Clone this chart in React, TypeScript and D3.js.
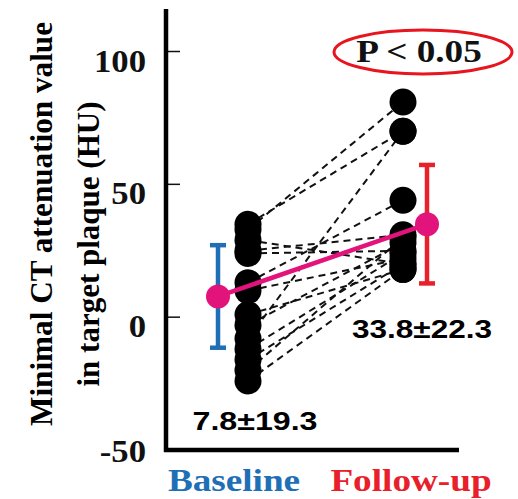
import React from 'react';
import * as d3 from 'd3';

// groups on the x axis
const categories = ['Baseline', 'Follow-up'];
const categoryColors = ['#1f6fb6', '#e8202a'];

// paired values per plaque (HU)
const baselineValues = [35, 33, 29, 25, 24, 13, 10, 1, -3, -8, -12, -16, -20, -24];
const followUpValues = [70, 81, 20, 31, 25, 44, 22, 18, 28, 70, 24, 20, 30, 18];

// mean and SD as drawn
const means = [7.8, 35];
const sds = [19.3, 22.3];
const summaryLabels = ['7.8\u00b119.3', '33.8\u00b122.3'];

const yTicks = [100, 50, 0, -50];

const W = 518;
const H = 499;
const serif = '"Liberation Serif", "Times New Roman", serif';
const sans = '"Liberation Sans", Arial, sans-serif';
const pink = '#e3137c';

export default function App() {
  const y = d3.scaleLinear().domain([-50, 116]).range([450, 9]);
  const x = d3.scalePoint<string>().domain(categories).range([233, 415]);

  const dotX = [x('Baseline')! + 15, x('Follow-up')! - 12];
  const meanX = [x('Baseline')! - 15, x('Follow-up')! + 12];
  const series = [baselineValues, followUpValues];

  const meanLine = d3.line<number>()
    .x((_, i) => meanX[i])
    .y(d => y(d));

  return (
    <svg width={W} height={H} style={{ position: 'absolute', left: 0, top: 0, background: '#fff' }}>
      {/* y axis title */}
      <g transform={`translate(52, 224) rotate(-90)`}>
        <text textAnchor="middle" fontFamily={serif} fontWeight="bold" fontSize={31}
          textLength={404} lengthAdjust="spacingAndGlyphs">Minimal CT attenuation value</text>
      </g>
      <g transform={`translate(99, 244) rotate(-90)`}>
        <text textAnchor="middle" fontFamily={serif} fontWeight="bold" fontSize={31}>in target plaque (HU)</text>
      </g>

      {/* ticks + labels */}
      {yTicks.map(t => (
        <g key={t}>
          {t > -50 && <line x1={166} x2={180} y1={y(t)} y2={y(t)} stroke="#111" strokeWidth={1.5} />}
          <g transform={`translate(146, ${y(t) + (t === -50 ? 12 : 20)}) scale(1.12, 1)`}>
            <text textAnchor="end" fontFamily={serif} fontWeight="bold" fontSize={31} fill="#111">{t}</text>
          </g>
        </g>
      ))}

      {/* axes */}
      <line x1={166} x2={166} y1={9} y2={452} stroke="#000" strokeWidth={4.5} />
      <line x1={164} x2={459} y1={450} y2={450} stroke="#000" strokeWidth={4.5} />

      {/* paired dashed lines */}
      {baselineValues.map((b, i) => (
        <line key={i} x1={dotX[0]} y1={y(b)} x2={dotX[1]} y2={y(followUpValues[i])}
          stroke="#111" strokeWidth={2} strokeDasharray="7,5" />
      ))}

      {/* individual dots */}
      {series.map((vals, s) => vals.map((v, i) => (
        <circle key={`${s}-${i}`} cx={dotX[s]} cy={y(v)} r={13.5} fill="#000" />
      )))}

      {/* error bars */}
      {means.map((m, i) => (
        <g key={i} stroke={categoryColors[i]} strokeWidth={4.5}>
          <line x1={meanX[i]} x2={meanX[i]} y1={y(m + sds[i])} y2={y(m - sds[i])} />
          <line x1={meanX[i] - 8} x2={meanX[i] + 8} y1={y(m + sds[i])} y2={y(m + sds[i])} />
          <line x1={meanX[i] - 8} x2={meanX[i] + 8} y1={y(m - sds[i])} y2={y(m - sds[i])} />
        </g>
      ))}

      {/* mean line */}
      <path d={meanLine(means) || ''} fill="none" stroke={pink} strokeWidth={4.5} />
      {means.map((m, i) => (
        <circle key={i} cx={meanX[i]} cy={y(m)} r={12} fill={pink} />
      ))}

      {/* mean ± SD labels */}
      <text x={255} y={430} textAnchor="middle" fontFamily={sans} fontWeight="bold" fontSize={25}
        textLength={125} lengthAdjust="spacingAndGlyphs">{summaryLabels[0]}</text>
      <text x={422} y={338} textAnchor="middle" fontFamily={sans} fontWeight="bold" fontSize={25}
        textLength={140} lengthAdjust="spacingAndGlyphs">{summaryLabels[1]}</text>

      {/* category labels */}
      {categories.map((c, i) => (
        <g key={c} transform={`translate(${i === 0 ? 234 : 411}, 491) scale(1.2, 1)`}>
          <text textAnchor="middle" fontFamily={serif} fontWeight="bold" fontSize={31}
            fill={categoryColors[i]}>{c}</text>
        </g>
      ))}

      {/* significance */}
      <ellipse cx={423} cy={52} rx={89} ry={22} fill="none" stroke="#e8141e" strokeWidth={3} />
      <g transform="translate(419, 62) scale(1.2, 1)">
        <text textAnchor="middle" fontFamily={serif} fontWeight="bold" fontSize={31} fill="#111">P &lt; 0.05</text>
      </g>
    </svg>
  );
}
